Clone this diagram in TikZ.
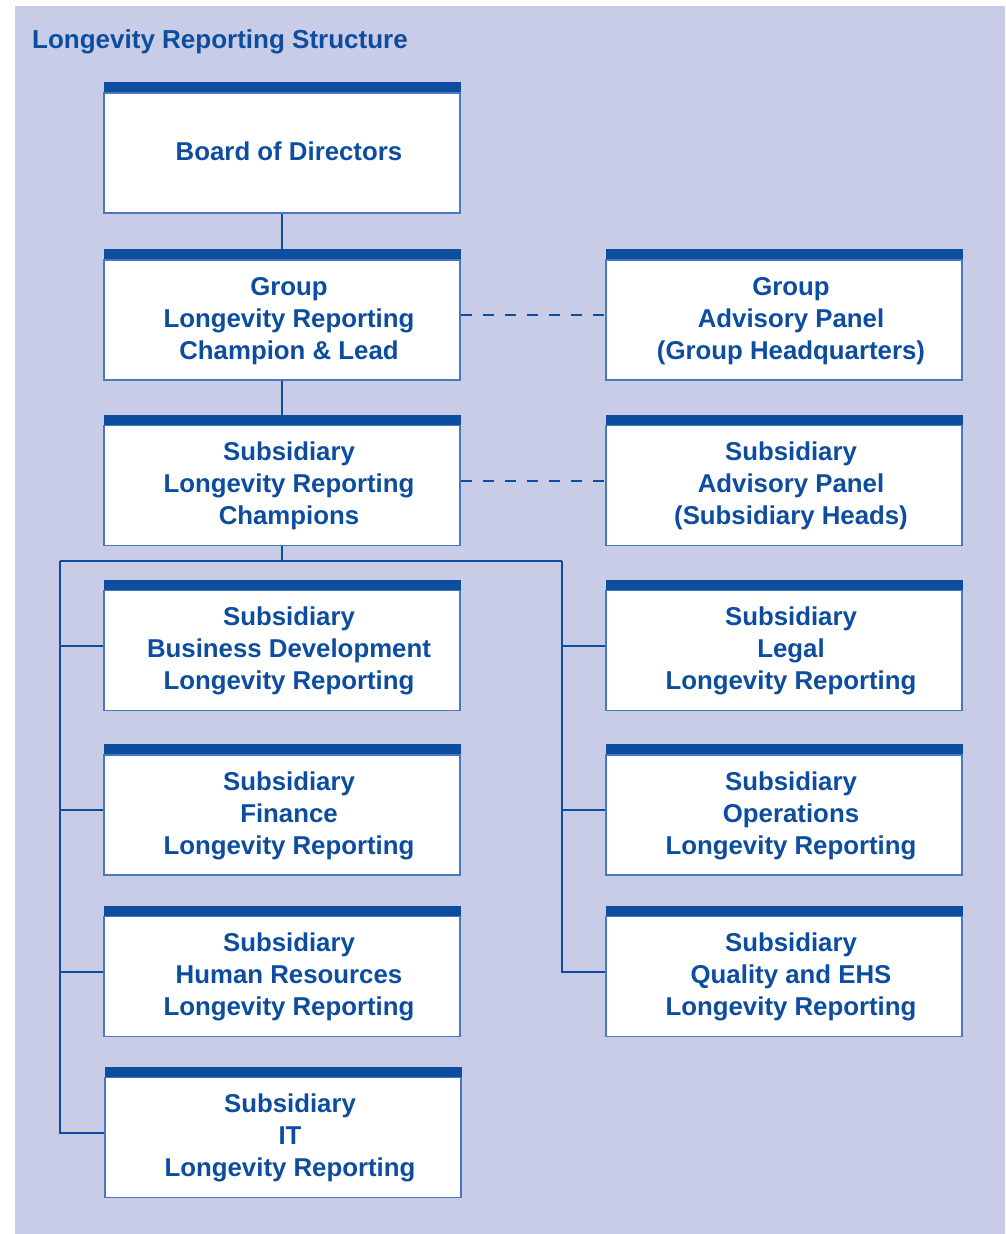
\documentclass[tikz,border=0pt]{standalone}
\usepackage{fontspec}
\setmainfont{Liberation Sans}
\usetikzlibrary{positioning}
\definecolor{barblue}{RGB}{13,77,160}
\definecolor{edgeblue}{RGB}{72,120,192}
\definecolor{panel}{RGB}{200,204,230}
\newcommand{\roletext}[1]{\hspace*{14pt}\raisebox{0pt}[\dimexpr\height+2pt\relax]{\begin{tabular}{@{}c@{}}#1\end{tabular}}}
\tikzstyle{unit} = [draw = edgeblue, line width = 1.5pt, fill = white,
    minimum width = 356pt, minimum height = 120pt, inner sep = 0pt,
    text = barblue, font = \fontsize{25.8}{32}\selectfont\bfseries,
    label = {[fill = barblue, minimum width = 357pt, minimum height = 10pt,
              inner sep = 0pt, anchor = south]north:{}}]
\tikzstyle{link} = [draw = barblue, line width = 2pt]
\tikzstyle{advice} = [link, dash pattern = on 11pt off 11pt]

\begin{document}
\begin{tikzpicture}[x = 1pt, y = -1pt]
        \useasboundingbox (0,0) rectangle (1005,1234);
        \fill[panel] (15,6) rectangle (1005,1234);
        \node[anchor = base west, inner sep = 0pt, text = barblue,
              font = \fontsize{26}{30}\selectfont\bfseries]
            (title) at (32,48) {Longevity Reporting Structure};

        % left column
        \node[unit] (board) at (282,153) {\roletext{Board of Directors}};
        \node[unit] (champion) at (282,320) {\roletext{Group\\Longevity Reporting\\Champion \& Lead}};
        \node[unit] (subchamp) at (282,485.5) {\roletext{Subsidiary\\Longevity Reporting\\Champions}};
        \node[unit] (busdev) at (282,650.5) {\roletext{Subsidiary\\Business Development\\Longevity Reporting}};
        \node[unit] (finance) at (282,815) {\roletext{Subsidiary\\Finance\\Longevity Reporting}};
        \node[unit] (hr) at (282,976.5) {\roletext{Subsidiary\\Human Resources\\Longevity Reporting}};
        \node[unit] (it) at (283,1137.5) {\roletext{Subsidiary\\IT\\Longevity Reporting}};

        % right column
        \node[unit] (grppanel) at (784,320) {\roletext{Group\\Advisory Panel\\(Group Headquarters)}};
        \node[unit] (subpanel) at (784,485.5) {\roletext{Subsidiary\\Advisory Panel\\(Subsidiary Heads)}};
        \node[unit] (legal) at (784,650.5) {\roletext{Subsidiary\\Legal\\Longevity Reporting}};
        \node[unit] (ops) at (784,815) {\roletext{Subsidiary\\Operations\\Longevity Reporting}};
        \node[unit] (quality) at (784,976.5) {\roletext{Subsidiary\\Quality and EHS\\Longevity Reporting}};

        \coordinate (jl) at (60,561);
        \coordinate (jr) at (562,561);

        \draw[link] (board.south) -- ([yshift = 10pt]champion.north);
        \draw[link] (champion.south) -- ([yshift = 10pt]subchamp.north);
        \draw[advice] ([yshift = 5pt]champion.east) -- ([yshift = 5pt]grppanel.west);
        \draw[advice] ([yshift = 5pt]subchamp.east) -- ([yshift = 5pt]subpanel.west);

        \draw[link] (subchamp.south) -- (subchamp.south |- jl);
        \draw[link] (jl) -- (jr);
        \draw[link] (jl) |- ([yshift = 5pt]it.west);
        \draw[link] (jr) |- ([yshift = 5pt]quality.west);
        \foreach \n in {busdev, finance, hr}
            \draw[link] ([yshift = 5pt]\n.west) -- ++(-44,0);
        \foreach \n in {legal, ops}
            \draw[link] ([yshift = 5pt]\n.west) -- ++(-44,0);
    \end{tikzpicture}
\end{document}
